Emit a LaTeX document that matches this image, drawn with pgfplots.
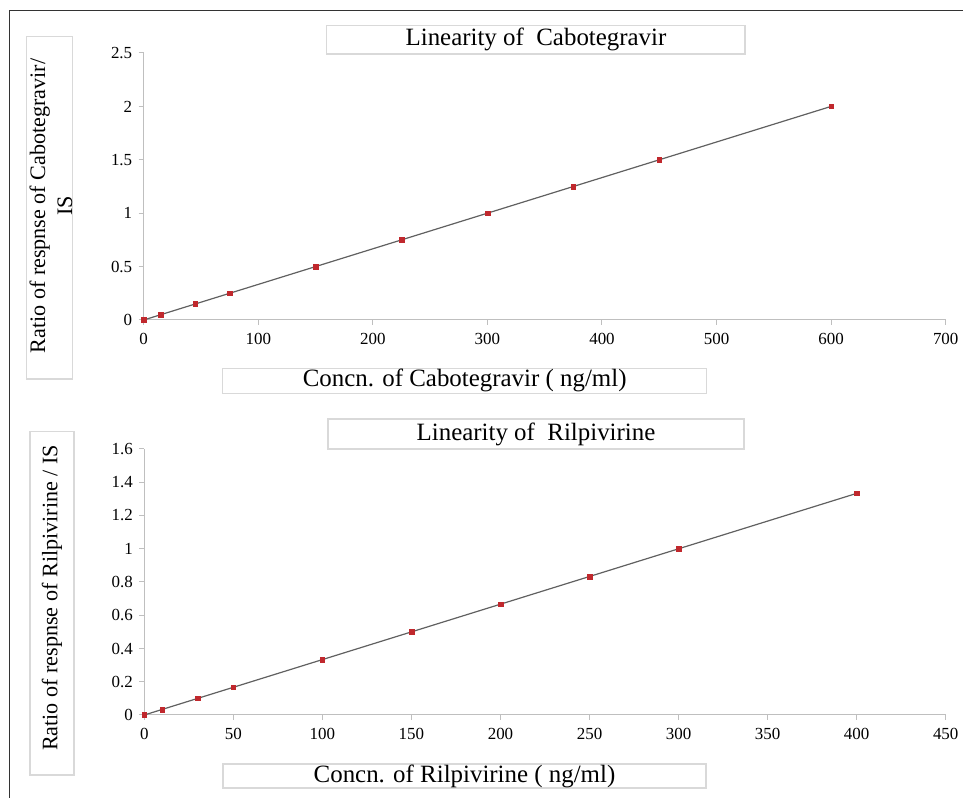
\documentclass[border=0pt]{standalone}
\usepackage{fontspec}
\setmainfont{Liberation Serif}
\usepackage{pgfplots}
\pgfplotsset{compat=1.18}
\definecolor{ptred}{HTML}{C0282D}
\definecolor{trend}{HTML}{606060}
\definecolor{axgray}{HTML}{BFBFBF}
\definecolor{boxgray}{HTML}{D9D9D9}

\pgfplotsset{
  linplot/.style={
    scale only axis,
    axis x line*=bottom,
    axis y line*=left,
    axis line style={draw=axgray, line width=1bp},
    tick style={draw=axgray, line width=1bp},
    tick align=outside,
    major tick length=5bp,
    scaled ticks=false,
    /pgf/number format/assume math mode=true,
    tick label style={font=\fontsize{17}{17}\selectfont, text=black},
    xticklabel style={yshift=-5bp},
    yticklabel style={xshift=-3bp},
    xmin=0, ymin=0,
    clip=false,
  },
}

\begin{document}
\begin{tikzpicture}
\useasboundingbox (0,0) rectangle (963bp,798bp);
% outer frame (top and left edges)
\draw[black!80, line width=1bp] (9bp,0) -- (9bp,787bp) -- (963bp,787bp);

% ---- Cabotegravir ----
\begin{axis}[linplot,
    at={(143.7bp,478bp)}, anchor=south west,
    width=802bp, height=267bp,
    xmax=700, ymax=2.5,
    xtick={0,100,...,700},
    ytick={0,0.5,1,1.5,2,2.5},
]
\addplot[trend, line width=1.2bp] coordinates {(0,0) (600,2)};
\addplot[only marks, mark=square*, mark size=2.3bp, mark options={fill=ptred, draw=ptred}]
coordinates {
  (0,0) (15,0.05) (45,0.15) (75,0.25) (150,0.5) (225,0.75)
  (300,1) (375,1.25) (450,1.5) (600,2)
};
\end{axis}

% ---- Rilpivirine ----
\begin{axis}[linplot,
    at={(144.3bp,83bp)}, anchor=south west,
    width=801.4bp, height=266bp,
    xmax=450, ymax=1.6,
    xtick={0,50,...,450},
    ytick={0,0.2,0.4,0.6,0.8,1,1.2,1.4,1.6},
]
\addplot[trend, line width=1.2bp] coordinates {(0,0) (400,1.333)};
\addplot[only marks, mark=square*, mark size=2.3bp, mark options={fill=ptred, draw=ptred}]
coordinates {
  (0,0) (10,0.033) (30,0.1) (50,0.167) (100,0.333) (150,0.5)
  (200,0.667) (250,0.833) (300,1) (400,1.333)
};
\end{axis}

% text boxes
\tikzset{tbox/.style={draw=boxgray, line width=1.2bp}}
\def\bigfont{\fontsize{25}{27}\selectfont}
\def\yfont{\fontsize{22.2}{27}\selectfont}
% top panel
\draw[tbox] (326.7bp,744bp) rectangle (745bp,772.7bp);
\node[font=\bigfont] at (536bp,758.4bp) {Linearity of\ \ Cabotegravir};
\draw[tbox] (26.7bp,419bp) rectangle (72.3bp,761.3bp);
\node[font=\yfont, rotate=90, align=center] at (51bp,592bp)
  {Ratio of respnse of Cabotegravir/\\IS};
\draw[tbox] (222.7bp,404.7bp) rectangle (706.7bp,429.7bp);
\node[font=\bigfont] at (464.7bp,417.2bp) {Concn. of Cabotegravir ( ng/ml)};
% bottom panel
\draw[tbox] (328bp,349bp) rectangle (744bp,379bp);
\node[font=\bigfont] at (536bp,364bp) {Linearity of\ \ Rilpivirine};
\draw[tbox] (30bp,23bp) rectangle (74bp,366.3bp);
\node[font=\yfont, rotate=90] at (52bp,200bp)
  {Ratio of respnse of Rilpivirine / IS};
\draw[tbox] (223bp,10bp) rectangle (706bp,34bp);
\node[font=\bigfont] at (464.5bp,22bp) {Concn. of Rilpivirine ( ng/ml)};
\end{tikzpicture}
\end{document}
